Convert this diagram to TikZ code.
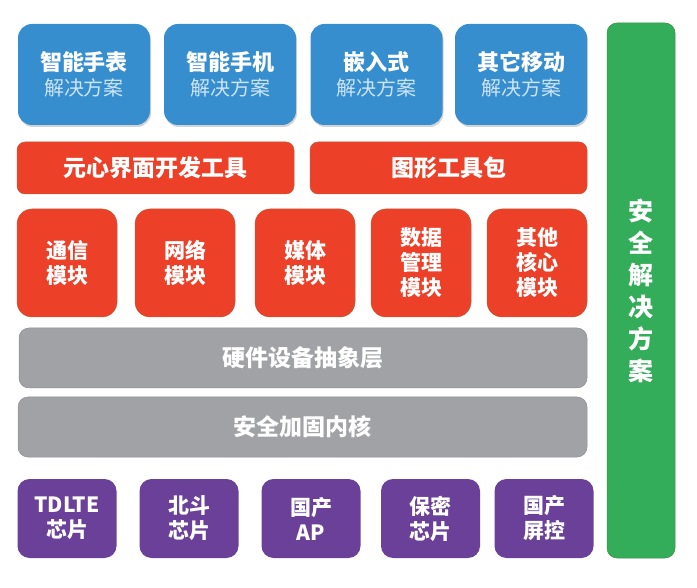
\documentclass[tikz,border=0pt]{standalone}
\usepackage{fontspec}
\setmainfont{Noto Sans CJK SC}
\usetikzlibrary{shadows}
\definecolor{cblue}{RGB}{54,142,206}
\definecolor{cbluetxt}{RGB}{205,228,245}
\definecolor{cred}{RGB}{236,64,40}
\definecolor{credline}{RGB}{190,95,60}
\definecolor{cgray}{RGB}{160,162,165}
\definecolor{cgrayline}{RGB}{140,142,145}
\definecolor{cpurple}{RGB}{106,64,152}
\definecolor{cgreen}{RGB}{52,173,90}
\definecolor{cgreenline}{RGB}{60,140,70}
\tikzset{
  box/.style={inner sep=0pt, align=center, text=white, font=\fontsize{21}{25}\selectfont\bfseries},
  bluebox/.style={box, fill=cblue, rounded corners=14pt, minimum width=132pt, minimum height=101pt,
    drop shadow={shadow xshift=1pt, shadow yshift=-2pt, opacity=0.35}},
  redbar/.style={box, fill=cred, draw=credline, line width=0.5pt, rounded corners=8pt, minimum width=277pt, minimum height=52pt, font=\fontsize{23}{26}\selectfont\bfseries},
  modbox/.style={box, fill=cred, draw=credline, line width=0.5pt, rounded corners=15pt, minimum width=100pt, minimum height=108pt},
  graybar/.style={box, fill=cgray, draw=cgrayline, line width=0.5pt, rounded corners=10pt, minimum height=60pt, font=\fontsize{23}{26}\selectfont\bfseries},
  chipbox/.style={box, fill=cpurple, rounded corners=12pt, minimum width=99pt, minimum height=79pt},
  greenbar/.style={box, fill=cgreen, draw=cgreenline, line width=0.5pt, rounded corners=10pt, minimum width=68pt, minimum height=535pt, font=\fontsize{25}{32}\selectfont\bfseries}
}
\newcommand{\twoline}[2]{{\fontsize{22}{26}\selectfont\bfseries #1}\\{\fontsize{20}{23}\selectfont\mdseries\color{cbluetxt}#2}}
\begin{document}
\begin{tikzpicture}[x=1pt,y=-1pt]
\useasboundingbox (0,0) rectangle (697,588);
% blue
\node[bluebox] (b1) at (84,74.5) {\twoline{智能手表}{解决方案}};
\node[bluebox] (b2) at (230,74.5) {\twoline{智能手机}{解决方案}};
\node[bluebox] (b3) at (376.5,74.5) {\twoline{嵌入式}{解决方案}};
\node[bluebox] (b4) at (521,74.5) {\twoline{其它移动}{解决方案}};
% red bars
\node[redbar] (r1) at (155.5,168) {元心界面开发工具};
\node[redbar] (r2) at (448.5,168) {图形工具包};
% modules
\node[modbox] (m1) at (67,263) {通信\\模块};
\node[modbox] (m2) at (185,263) {网络\\模块};
\node[modbox] (m3) at (305,263) {媒体\\模块};
\node[modbox] (m4) at (421,263) {数据\\管理\\模块};
\node[modbox] (m5) at (537,263) {其他\\核心\\模块};
% gray
\node[graybar, minimum width=568pt] (g1) at (303,358) {硬件设备抽象层};
\node[graybar, minimum width=569pt] (g2) at (302.5,427) {安全加固内核};
% chips
\node[chipbox] (c1) at (67,518.5) {TDLTE\\芯片};
\node[chipbox] (c2) at (189,518.5) {北斗\\芯片};
\node[chipbox] (c3) at (311,518.5) {国产\\AP};
\node[chipbox] (c4) at (430.5,518.5) {保密\\芯片};
\node[chipbox] (c5) at (544,518.5) {国产\\屏控};
% green
\node[greenbar] (s) at (641,290.5) {安\\全\\解\\决\\方\\案};
\end{tikzpicture}
\end{document}
